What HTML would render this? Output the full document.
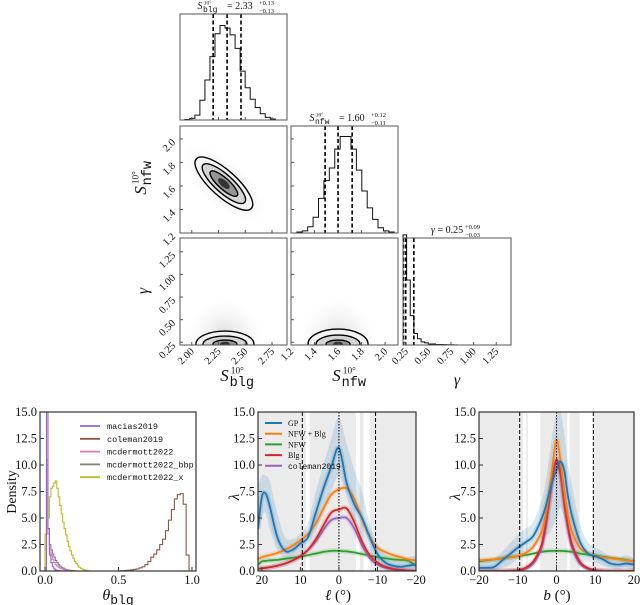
<!DOCTYPE html>
<html><head><meta charset="utf-8"><style>
html,body{margin:0;padding:0;background:#fff;}
svg{display:block;font-family:"Liberation Serif",serif;}
.mono{font-family:"Liberation Mono",monospace;}
</style></head><body>
<svg id="fig" width="640" height="605" viewBox="0 0 640 605" xmlns="http://www.w3.org/2000/svg">
<defs>
<radialGradient id="cloud" cx="50%" cy="50%" r="50%">
<stop offset="0" stop-color="#666" stop-opacity="0.35"/>
<stop offset="0.5" stop-color="#999" stop-opacity="0.15"/>
<stop offset="1" stop-color="#ccc" stop-opacity="0"/>
</radialGradient>
<clipPath id="c21"><rect x="180" y="126" width="107" height="107"/></clipPath>
<clipPath id="c31"><rect x="180" y="238" width="107" height="107"/></clipPath>
<clipPath id="c32"><rect x="291" y="238" width="107" height="107"/></clipPath>
<clipPath id="cA"><rect x="40" y="412" width="156" height="159"/></clipPath>
<clipPath id="cB"><rect x="258" y="412" width="158" height="159"/></clipPath>
<clipPath id="cC"><rect x="479" y="412" width="155" height="159"/></clipPath>
</defs>
<g id="root"></g>
</svg>
<script>
// ---------- corner data ----------
const blgHistStart = 1.935, blgHistWidth = 0.047;
const blgHist = [0.005,0.016,0.047,0.19,0.385,0.61,0.83,0.91,0.885,0.82,0.69,0.47,0.31,0.2,0.12,0.06,0.025,0.01];
const blgQuant = [2.20,2.33,2.46];
const nfwHistStart = 1.25, nfwHistWidth = 0.046;
const nfwHist = [0.01,0.02,0.06,0.15,0.33,0.5,0.62,0.8,0.92,0.92,0.8,0.6,0.4,0.24,0.13,0.05,0.02,0.01];
const nfwQuant = [1.49,1.60,1.72];
const gamHistStart = 0.22, gamHistWidth = 0.04;
const gamHist = [1.05,0.62,0.28,0.11,0.06,0.03,0.02,0.01,0.01,0.005,0.005,0.003,0.002,0.002,0.001];
const gamQuant = [0.225,0.25,0.34];
const c21Center = [2.30,1.62];
const c21Axes = [[37,13],[28,9],[18,5.5]];
const c31Center = [2.31,0.23];
const c31Axes = [[29,13],[22,8],[12,4]];
const c32Center = [1.60,0.23];
const c32Axes = [[30,15],[22,9],[12,4]];

// ---------- bottom panel A data ----------
const colemanEdges0 = 0.50, colemanW = 0.02;
const colemanHist = [0.02,0.03,0.05,0.07,0.1,0.15,0.2,0.3,0.4,0.6,0.9,1.3,1.6,2.0,2.5,3.0,3.8,4.8,5.8,6.8,7.2,7.3,6.3,1.5,0];
const xEdges0 = 0.0, xW = 0.01;
const mcxHist = [3.5,3.5,5.0,7.0,7.8,8.0,8.3,8.5,7.8,7.0,6.2,5.4,4.6,4.0,3.4,2.8,2.3,1.9,1.5,1.2,0.9,0.7,0.5,0.35,0.25,0.18,0.12,0.08,0.05,0.02,0];
const mcHist = [0,10.5,3.5,2.2,1.6,1.1,0.8,0.6,0.45,0.35,0.25,0.2,0.15,0.1,0.08,0.05,0.03,0.02,0.01,0];
const bbpHist = [0,10,3.5,2.5,2.0,1.6,1.3,1.0,0.8,0.6,0.45,0.35,0.28,0.2,0.15,0.1,0.08,0.06,0.04,0.03,0.02,0.01,0];
const maciasHist = [0,16,4,1.5,0.8,0.4,0.2,0.1,0.05,0.03,0.02,0];

// ---------- panel B (longitude) ----------
const lGrid = [21,20,19,18,16,14,12,10,8,6,4,2,0,-2,-4,-6,-8,-10,-12,-14,-16,-18,-20];
const gpL = [4.0,7.0,7.3,6.2,3.2,1.9,2.0,2.6,3.2,5.5,7.8,9.8,11.6,8.3,6.3,5.0,3.2,1.6,0.8,0.5,0.4,0.5,0.6];
const gpLlo = [3.0,5.0,5.5,4.0,2.0,1.2,1.4,1.8,2.4,3.8,5.5,7.5,9.0,7.0,4.8,3.4,2.0,0.8,0.3,0.1,0.0,0.0,0.0];
const gpLhi = [8.0,9.0,9.0,8.5,5.5,3.2,3.0,3.5,4.6,7.5,10.0,12.5,14.5,12.0,9.5,7.5,4.5,2.5,1.6,1.2,1.0,1.3,1.5];
const nfwBlgL = [1.1,1.3,1.4,1.5,1.7,2.0,2.4,2.9,3.5,4.5,5.9,7.2,7.7,7.8,6.8,4.9,3.2,2.2,1.8,1.5,1.3,1.1,1.0];
const nfwL = [0.6,0.9,0.95,1.0,1.05,1.15,1.25,1.35,1.5,1.65,1.8,1.9,1.9,1.85,1.75,1.6,1.45,1.3,1.2,1.1,1.05,0.95,0.5];
const blgL = [0.2,0.25,0.3,0.35,0.5,0.7,1.0,1.4,2.0,3.0,4.3,5.5,5.8,5.9,4.6,2.8,1.5,0.8,0.4,0.2,0.1,0.05,0.0];
const colL = [0.2,0.25,0.3,0.35,0.5,0.7,1.0,1.4,2.0,2.8,3.9,4.8,5.0,5.0,4.0,2.4,1.2,0.6,0.3,0.15,0.08,0.03,0.0];
const maskL = [[21,8.6],[7.6,-4.4],[-5.4,-6.4],[-8.0,-20]];

// ---------- panel C (latitude) ----------
const bGrid = [-20,-18,-16,-14,-12,-10,-8,-6,-4,-3,-2,-1,0,1,2,3,4,6,8,10,12,14,16,18,20];
const gpB = [0.3,0.3,0.4,1.0,1.6,2.2,2.7,3.3,4.8,5.8,7.2,8.5,9.6,10.3,9.5,7.0,5.2,2.8,1.7,1.4,1.1,0.7,0.6,0.7,0.6];
const gpBlo = [0.0,0.0,0.0,0.3,0.6,1.2,1.6,2.0,3.0,3.3,3.5,4.2,5.0,6.0,5.0,3.8,2.5,1.0,0.9,0.8,0.5,0.3,0.2,0.3,0.0];
const gpBhi = [0.8,0.9,1.2,1.8,2.6,3.4,4.0,4.6,6.5,8.0,10.5,13.0,15.0,15.0,13.0,10.0,8.0,4.5,2.8,2.2,1.8,1.3,1.2,1.5,1.2];
const nfwBlgB = [1.0,1.05,1.1,1.2,1.3,1.4,1.7,2.3,3.6,4.9,7.0,10.0,12.4,10.5,7.5,5.2,3.7,2.2,1.7,1.4,1.3,1.2,1.1,1.0,0.9];
const nfwB = [0.9,1.0,1.1,1.2,1.3,1.4,1.5,1.65,1.8,1.85,1.88,1.9,1.9,1.9,1.88,1.85,1.8,1.65,1.55,1.45,1.35,1.25,1.15,1.05,0.9];
const blgB = [0,0,0,0,0.02,0.08,0.3,0.9,2.3,4.0,6.3,9.0,10.5,9.3,6.5,4.2,2.5,0.9,0.3,0.08,0.02,0,0,0,0];
const colB = [0,0,0,0,0.01,0.05,0.2,0.7,2.0,3.6,6.0,8.8,10.2,9.0,6.2,3.8,2.2,0.7,0.2,0.05,0.01,0,0,0,0];
const maskB = [[-20,-8.6],[-7.9,-7.4],[-4.2,2.8],[3.4,6.0],[9.6,20]];

const yTicks = ["0.0","2.5","5.0","7.5","10.0","12.5","15.0"];
const yTickVals = [0,2.5,5,7.5,10,12.5,15];

const NS="http://www.w3.org/2000/svg";
const root=document.getElementById('root');
function mk(tag,attrs,parent){const e=document.createElementNS(NS,tag);for(const k in attrs)e.setAttribute(k,attrs[k]);(parent||root).appendChild(e);return e;}

const cX1=v=>180+(v-1.89)*107, cX2=v=>291+(v-1.2)*117.6, cX3=v=>403+(v-0.22)*90.5;
const cY2=v=>233-(v-1.2)*117.6, cY3=v=>345-(v-0.22)*90.5;
const aX=v=>45+v*147, yB=v=>571-v*10.6;
const bX=v=>258+(21-v)*(158/41), cX=v=>479+(v+20)*(155/40);

function smooth(pts){let d=`M${pts[0][0]},${pts[0][1]}`;for(let i=0;i<pts.length-1;i++){const p0=pts[i-1]||pts[i],p1=pts[i],p2=pts[i+1],p3=pts[i+2]||p2;
d+=` C${p1[0]+(p2[0]-p0[0])/6},${p1[1]+(p2[1]-p0[1])/6} ${p2[0]-(p3[0]-p1[0])/6},${p2[1]-(p3[1]-p1[1])/6} ${p2[0]},${p2[1]}`;}return d;}
function stepPath(x0,w,vals,xs,ys){let d=`M${xs(x0)},${ys(0)}`;vals.forEach((v,i)=>{d+=` L${xs(x0+i*w)},${ys(v)} L${xs(x0+(i+1)*w)},${ys(v)}`;});d+=` L${xs(x0+vals.length*w)},${ys(0)}`;return d;}

function frame(x,y,w,h,name){const r=mk('rect',{x,y,width:w,height:h,fill:'none',stroke:'#555','stroke-width':1});

}
function hist(x0,w,vals,xs,top,bottom,name){const ys=v=>bottom-v*(bottom-top)*0.98;const p=mk('path',{d:stepPath(x0,w,vals,xs,ys),fill:'none',stroke:'#111','stroke-width':1});

}
function quant(vals,xs,top,bottom,name){vals.forEach(v=>{const l=mk('line',{x1:xs(v),x2:xs(v),y1:top,y2:bottom,stroke:'#000','stroke-width':1.6,'stroke-dasharray':'4,2.5'});

});}

hist(blgHistStart,blgHistWidth,blgHist,cX1,14,120,'hist-s-blg');
quant(blgQuant,cX1,14,120,'quantile-s-blg');
frame(180,14,107,106,'panel-s-blg-hist');
hist(nfwHistStart,nfwHistWidth,nfwHist,cX2,126,233,'hist-s-nfw');
quant(nfwQuant,cX2,126,233,'quantile-s-nfw');
frame(291,126,107,107,'panel-s-nfw-hist');
hist(gamHistStart,gamHistWidth,gamHist,cX3,238,345,'hist-gamma');
quant(gamQuant,cX3,238,345,'quantile-gamma');
frame(403,238,108,107,'panel-gamma-hist');

function contourPanel(clip,cx,cy,axes,rot,cloud,name){const g=mk('g',{'clip-path':`url(#${clip})`});


const c=mk('ellipse',{cx,cy,rx:cloud[0],ry:cloud[1],fill:'url(#cloud)',transform:`rotate(${rot} ${cx} ${cy})`},g);


const fills=['#f4f4f4','#cfcfcf','#8a8a8a'];
axes.forEach((a,i)=>{const e=mk('ellipse',{cx,cy,rx:a[0],ry:a[1],fill:fills[i],'fill-opacity':0.85,stroke:'#000','stroke-width':1.4,transform:`rotate(${rot} ${cx} ${cy})`},g);

});
const d=mk('ellipse',{cx,cy,rx:axes[2][0]*0.4,ry:axes[2][1]*0.6,fill:'#333',transform:`rotate(${rot} ${cx} ${cy})`},g);

}
contourPanel('c21',cX1(c21Center[0]),cY2(c21Center[1]),c21Axes,42,[52,22],'contour-blg-nfw');
frame(180,126,107,107,'panel-blg-vs-nfw');
contourPanel('c31',cX1(c31Center[0]),cY3(c31Center[1]),c31Axes,0,[38,45],'contour-blg-gamma');
frame(180,238,107,107,'panel-blg-vs-gamma');
contourPanel('c32',cX2(c32Center[0]),cY3(c32Center[1]),c32Axes,0,[38,45],'contour-nfw-gamma');
frame(291,238,107,107,'panel-nfw-vs-gamma');

function txt(x,y,s,opt,name){const t=mk('text',Object.assign({x,y,'font-size':11,fill:'#111'},opt||{}));t.innerHTML=s;

return t;}

const blgTicks=[2.00,2.25,2.50,2.75], nfwTicks=[1.2,1.4,1.6,1.8,2.0], gamTicks=[0.25,0.50,0.75,1.00,1.25];
function tickMarks(list,fx,fy,horizontal,name){list.forEach(v=>{let l;if(horizontal){l=mk('line',{x1:fx(v),x2:fx(v),y1:fy,y2:fy-3,stroke:'#555'});}else{l=mk('line',{x1:fx,x2:fx+3,y1:fy(v),y2:fy(v),stroke:'#555'});}

});}
[120,233,345].forEach(y=>tickMarks(blgTicks,cX1,y,true,'tick-s-blg'));
[233,345].forEach(y=>tickMarks(nfwTicks,cX2,y,true,'tick-s-nfw'));
tickMarks(gamTicks,cX3,345,true,'tick-gamma');
[180,291].forEach(x=>tickMarks(nfwTicks,x,cY2,false,'tick-s-nfw-y'));
[180,291,403].forEach(x=>tickMarks(gamTicks,x,cY3,false,'tick-gamma-y'));
function rotLabel(x,y,s,name){txt(x,y,s,{'text-anchor':'end',transform:`rotate(-45 ${x} ${y})`,'font-size':10.5},name);}
blgTicks.forEach(v=>rotLabel(cX1(v)+3,352,v.toFixed(2),'tick-label-s-blg'));
nfwTicks.forEach(v=>rotLabel(cX2(v)+3,352,v.toFixed(1),'tick-label-s-nfw'));
gamTicks.forEach(v=>rotLabel(cX3(v)+3,352,v.toFixed(2),'tick-label-gamma'));
nfwTicks.forEach(v=>rotLabel(176,cY2(v)+4,v.toFixed(1),'tick-label-s-nfw-y'));
gamTicks.forEach(v=>rotLabel(176,cY3(v)+4,v.toFixed(2),'tick-label-gamma-y'));

// S^{10°}_{sub} label built from separate text pieces
function sLabel(x,y,sub,size,rot,name){const g=mk('g',rot?{transform:`rotate(-90 ${x} ${y})`}:{});


const sx=x-size*0.75;
txt(sx,y,'S',{'font-size':size,'font-style':'italic'},name+'-s').parentNode.removeChild;
const g2=g;
const s=root.lastChild; g2.appendChild(s);
const sup=txt(sx+size*0.62,y-size*0.45,'10°',{'font-size':size*0.55},name+'-sup'); g2.appendChild(sup);
const sb=txt(sx+size*0.55,y+size*0.3,sub,{'font-size':size*0.8,'class':'mono'},name+'-sub'); g2.appendChild(sb);}
function titleLabel(x,y,sub,val,up,dn,name){sLabel(x-28,y,sub,10,false,name+'-lhs');
txt(x-6,y,'= '+val,{'font-size':10},name+'-value');
txt(x+26,y-4,up,{'font-size':6.5},name+'-upper');
txt(x+26,y+4,dn,{'font-size':6.5},name+'-lower');}
titleLabel(233,9,'blg','2.33','+0.13','−0.13','title-s-blg');
titleLabel(345,121,'nfw','1.60','+0.12','−0.11','title-s-nfw');
txt(431,233,'<tspan font-style="italic">γ</tspan> = 0.25',{'font-size':10},'title-gamma');
txt(465,229,'+0.09',{'font-size':6.5},'title-gamma-upper');
txt(465,237,'−0.03',{'font-size':6.5},'title-gamma-lower');
sLabel(233,381,'blg',17,false,'x-label-s-blg');
sLabel(345,381,'nfw',17,false,'x-label-s-nfw');
txt(457,385,'γ',{'text-anchor':'middle','font-size':16,'font-style':'italic'},'x-label-gamma');
sLabel(146,182,'nfw',17,true,'y-label-s-nfw');
txt(148,291,'γ',{'text-anchor':'middle','font-size':16,'font-style':'italic',transform:'rotate(-90 148 291)'},'y-label-gamma');

// ---------- bottom panels ----------
function yAxis(x0){yTickVals.forEach((v,i)=>{const l=mk('line',{x1:x0,x2:x0+4,y1:yB(v),y2:yB(v),stroke:'#333'});


txt(x0-3,yB(v)+4,yTicks[i],{'text-anchor':'end','font-size':12.5},'y-tick-label');});}
function bframe(x,w,name){const r=mk('rect',{x,y:412,width:w,height:159,fill:'none',stroke:'#333','stroke-width':1.2});

}

const gA=mk('g',{'clip-path':'url(#cA)'});


function hA(x0,w,vals,color,name){const p=mk('path',{d:stepPath(x0,w,vals,aX,yB),fill:'none',stroke:color,'stroke-width':1.1},gA);

}
hA(colemanEdges0,colemanW,colemanHist,'#8c564b','hist-coleman2019');
hA(xEdges0,xW,mcxHist,'#bcbd22','hist-mcdermott2022-x');
hA(xEdges0,xW,bbpHist,'#7f7f7f','hist-mcdermott2022-bbp');
hA(xEdges0,xW,mcHist,'#e377c2','hist-mcdermott2022');
hA(xEdges0,xW,maciasHist,'#9467bd','hist-macias2019');
bframe(40,156,'panel-theta-blg');
yAxis(40);
[0,0.5,1.0].forEach(v=>{const l=mk('line',{x1:aX(v),x2:aX(v),y1:571,y2:567,stroke:'#333'});


txt(aX(v),584,v.toFixed(1),{'text-anchor':'middle','font-size':12.5},'x-tick-label');});
const legA=[['macias2019','#9467bd'],['coleman2019','#8c564b'],['mcdermott2022','#e377c2'],['mcdermott2022_bbp','#7f7f7f'],['mcdermott2022_x','#bcbd22']];
legA.forEach((e,i)=>{const y=426+i*12.8;const l=mk('line',{x1:80,x2:100,y1:y,y2:y,stroke:e[1],'stroke-width':1.8});


txt(107,y+3,e[0],{'font-size':8.5,'class':'mono'},'legend-entry-'+e[0]);});
txt(16,492,'Density',{'text-anchor':'middle','font-size':14,transform:'rotate(-90 16 492)'},'y-axis-title-density');
txt(118,600,'<tspan font-style="italic">θ</tspan><tspan class="mono" font-size="13" dy="4">blg</tspan>',{'text-anchor':'middle','font-size':16},'x-axis-title-theta');

function profilePanel(clip,xs,grid,mask,gp,lo,hi,series,name){const g=mk('g',{'clip-path':`url(#${clip})`});


mask.forEach(m=>{const a=xs(m[0]),b=xs(m[1]);const r=mk('rect',{x:Math.min(a,b),y:412,width:Math.abs(b-a),height:159,fill:'#ebebeb'},g);

});
const up=grid.map((v,i)=>[xs(v),yB(hi[i])]), dn=grid.map((v,i)=>[xs(v),yB(lo[i])]).reverse();
const band=mk('path',{d:smooth(up)+' L'+smooth(dn).slice(1)+' Z',fill:'#1f77b4','fill-opacity':0.16},g);


series.forEach(s=>{const pts=grid.map((v,i)=>[xs(v),yB(s[0][i])]);
const b=mk('path',{d:smooth(pts),fill:'none',stroke:s[1],'stroke-width':5,'stroke-opacity':0.18},g);


const p=mk('path',{d:smooth(pts),fill:'none',stroke:s[1],'stroke-width':1.8},g);

});
[[-9.5,'4,2'],[9.5,'4,2'],[0,'1.5,1.5']].forEach(d=>{const l=mk('line',{x1:xs(d[0]),x2:xs(d[0]),y1:412,y2:571,stroke:'#000','stroke-width':1,'stroke-dasharray':d[1]},g);

});}
profilePanel('cB',bX,lGrid,maskL,gpL,gpLlo,gpLhi,[[nfwL,'#2ca02c','nfw'],[colL,'#9467bd','coleman2019'],[blgL,'#d62728','blg'],[nfwBlgL,'#ff7f0e','nfw-blg'],[gpL,'#1f77b4','gp']],'longitude-profile');
bframe(258,158,'panel-longitude');
yAxis(258);
[20,10,0,-10,-20].forEach(v=>{const l=mk('line',{x1:bX(v),x2:bX(v),y1:571,y2:567,stroke:'#333'});


txt(bX(v),584,v<0?'−'+(-v):String(v),{'text-anchor':'middle','font-size':12.5},'x-tick-label');});
const legB=[['GP','#1f77b4'],['NFW + Blg','#ff7f0e'],['NFW','#2ca02c'],['Blg','#d62728'],['coleman2019','#9467bd']];
legB.forEach((e,i)=>{const y=423+i*10.7;const l=mk('line',{x1:265,x2:282,y1:y,y2:y,stroke:e[1],'stroke-width':2});


txt(288,y+3,e[0],{'font-size':8,'class':i==4?'mono':''},'legend-entry-'+e[0]);});
txt(239,497,'λ',{'text-anchor':'middle','font-size':15,'font-style':'italic',transform:'rotate(-90 239 497)'},'y-axis-title-lambda');
txt(338,600,'<tspan font-style="italic">ℓ</tspan> (°)',{'text-anchor':'middle','font-size':15},'x-axis-title-l');

profilePanel('cC',cX,bGrid,maskB,gpB,gpBlo,gpBhi,[[nfwB,'#2ca02c','nfw'],[colB,'#9467bd','coleman2019'],[blgB,'#d62728','blg'],[nfwBlgB,'#ff7f0e','nfw-blg'],[gpB,'#1f77b4','gp']],'latitude-profile');
bframe(479,155,'panel-latitude');
yAxis(479);
[-20,-10,0,10,20].forEach(v=>{const l=mk('line',{x1:cX(v),x2:cX(v),y1:571,y2:567,stroke:'#333'});


txt(cX(v),584,v<0?'−'+(-v):String(v),{'text-anchor':'middle','font-size':12.5},'x-tick-label');});
txt(460,497,'λ',{'text-anchor':'middle','font-size':15,'font-style':'italic',transform:'rotate(-90 460 497)'},'y-axis-title-lambda-b');
txt(557,600,'<tspan font-style="italic">b</tspan> (°)',{'text-anchor':'middle','font-size':15},'x-axis-title-b');
</script>
</body></html>
